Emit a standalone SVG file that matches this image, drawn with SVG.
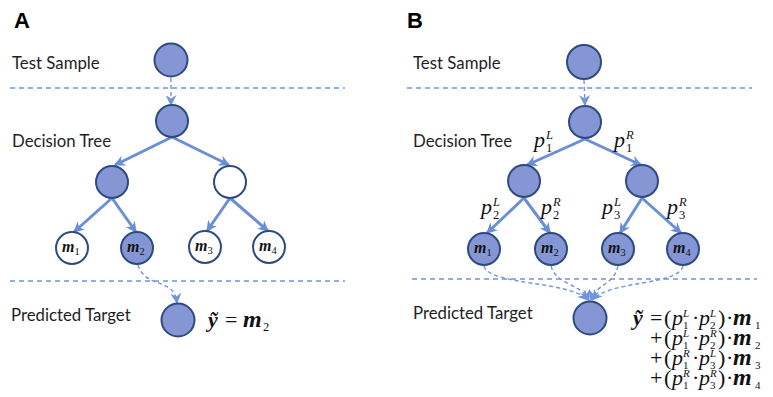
<svg xmlns="http://www.w3.org/2000/svg" width="773" height="397" viewBox="0 0 773 397">
<defs>
<style>
.lbl{font-family:Lato,"Liberation Sans",sans-serif;font-size:16.8px;fill:#1e1e1e}
.hd{font-family:"Liberation Sans",Arial,sans-serif;font-size:22px;font-weight:bold;fill:#000}
.nf{fill:#8497d4;stroke:#2f4a80;stroke-width:2}
.nw{fill:#fff;stroke:#2f4a80;stroke-width:2}
.edge{stroke:#6a8fd6;stroke-width:3;fill:none;marker-end:url(#ah)}
.dash{stroke:#6f95dd;stroke-width:1.4;stroke-dasharray:5 4;fill:none}
.darr{stroke:#6f95dd;stroke-width:1.4;stroke-dasharray:4 3;fill:none;marker-end:url(#dh)}
.m{font-family:"Liberation Serif","DejaVu Serif",serif;font-size:16px;font-weight:bold;font-style:italic;fill:#111}
.sub{font-family:"Liberation Serif","DejaVu Serif",serif;font-size:10.5px;font-weight:normal;font-style:normal}
.eq{font-family:"Liberation Serif","DejaVu Serif",serif;font-size:22px;fill:#111}
.pl{font-family:"Liberation Serif","DejaVu Serif",serif;font-size:22px;fill:#111}
.bi{font-weight:bold;font-style:italic}
.mm{font-weight:bold;font-style:italic;font-size:24px}
.it{font-style:italic}
.sm{font-size:12.5px}
.ss{font-size:11px}
</style>
<marker id="ah" viewBox="0 0 10 10" refX="9" refY="5" markerWidth="11" markerHeight="11" orient="auto" markerUnits="userSpaceOnUse"><path d="M0,0 L10,5 L0,10 L3,5 z" fill="#6a8fd6"/></marker>
<marker id="dh" viewBox="0 0 10 10" refX="9" refY="5" markerWidth="11" markerHeight="11" orient="auto" markerUnits="userSpaceOnUse"><path d="M0,0 L10,5 L0,10 L3,5 z" fill="#6f95dd"/></marker>
</defs>
<rect width="773" height="397" fill="#fff"/>

<!-- Panel A -->
<text class="hd" x="14" y="28">A</text>
<text class="lbl" x="12" y="69">Test Sample</text>
<text class="lbl" x="12" y="147">Decision Tree</text>
<text class="lbl" x="11" y="321">Predicted Target</text>

<!-- Panel B -->
<text class="hd" x="407" y="28">B</text>
<text class="lbl" x="413" y="69">Test Sample</text>
<text class="lbl" x="413" y="147">Decision Tree</text>
<text class="lbl" x="413" y="319">Predicted Target</text>

<g id="connectors">
<line class="dash" x1="10" y1="88" x2="345" y2="88"/>
<line class="dash" x1="10" y1="281" x2="345" y2="281"/>
<line class="dash" x1="407" y1="88" x2="752" y2="88"/>
<line class="dash" x1="412" y1="279" x2="757" y2="279"/>
<path class="darr" d="M171,78 L171,105"/>
<line class="edge" x1="172" y1="137" x2="115" y2="165"/>
<line class="edge" x1="172" y1="137" x2="229" y2="165"/>
<line class="edge" x1="112" y1="198" x2="74" y2="232"/>
<line class="edge" x1="112" y1="198" x2="136" y2="232"/>
<line class="edge" x1="230" y1="198" x2="207" y2="231"/>
<line class="edge" x1="230" y1="198" x2="268" y2="231"/>
<path class="darr" d="M138,265 C146,290 174,276 177,303"/>
<path class="darr" d="M584,80 L585,105"/>
<line class="edge" x1="585" y1="139" x2="527" y2="165"/>
<line class="edge" x1="585" y1="139" x2="641" y2="165"/>
<line class="edge" x1="524" y1="198" x2="487" y2="233"/>
<line class="edge" x1="524" y1="198" x2="550" y2="233"/>
<line class="edge" x1="642" y1="198" x2="620" y2="233"/>
<line class="edge" x1="642" y1="198" x2="681" y2="233"/>
<path class="darr" d="M484,266 C490,286 568,280 588,300"/>
<path class="darr" d="M551,266 C556,285 582,284 589,300"/>
<path class="darr" d="M618,266 C614,285 596,284 591,300"/>
<path class="darr" d="M683,266 C678,286 610,280 592,300"/>
</g>

<!-- Panel A nodes -->
<g id="a-test"><circle class="nf" cx="171" cy="60" r="16.5"/></g>
<g id="a-root"><circle class="nf" cx="172" cy="121" r="16"/></g>
<g id="a-left"><circle class="nf" cx="112" cy="182" r="16"/></g>
<g id="a-right"><circle class="nw" cx="230" cy="182" r="16"/></g>
<g id="a-m1"><circle class="nw" cx="72" cy="248" r="16"/><text class="m" x="62" y="252">m<tspan class="sub" dy="3">1</tspan></text></g>
<g id="a-m2"><circle class="nf" cx="137" cy="248" r="16"/><text class="m" x="127" y="252">m<tspan class="sub" dy="3">2</tspan></text></g>
<g id="a-m3"><circle class="nw" cx="205" cy="247" r="16"/><text class="m" x="195" y="251">m<tspan class="sub" dy="3">3</tspan></text></g>
<g id="a-m4"><circle class="nw" cx="269" cy="247" r="16"/><text class="m" x="259" y="251">m<tspan class="sub" dy="3">4</tspan></text></g>
<g id="a-pred"><circle class="nf" cx="178" cy="320" r="16.5"/>
<text class="eq" x="208" y="327"><tspan class="bi">ỹ</tspan><tspan x="225">=</tspan><tspan class="mm" x="243">m</tspan><tspan class="sm" x="263" y="331">2</tspan></text></g>

<!-- Panel B nodes -->
<g id="b-test"><circle class="nf" cx="584" cy="62" r="17"/></g>
<g id="b-root"><circle class="nf" cx="585" cy="122" r="16"/></g>
<g id="b-left"><circle class="nf" cx="524" cy="181" r="16"/></g>
<g id="b-right"><circle class="nf" cx="642" cy="181" r="16"/></g>
<g id="b-m1"><circle class="nf" cx="484" cy="249" r="16"/><text class="m" x="474" y="253">m<tspan class="sub" dy="3">1</tspan></text></g>
<g id="b-m2"><circle class="nf" cx="551" cy="249" r="16"/><text class="m" x="541" y="253">m<tspan class="sub" dy="3">2</tspan></text></g>
<g id="b-m3"><circle class="nf" cx="618" cy="249" r="16"/><text class="m" x="608" y="253">m<tspan class="sub" dy="3">3</tspan></text></g>
<g id="b-m4"><circle class="nf" cx="683" cy="249" r="16"/><text class="m" x="673" y="253">m<tspan class="sub" dy="3">4</tspan></text></g>
<g id="b-pred"><circle class="nf" cx="590" cy="318" r="16.5"/></g>

<!-- edge labels B -->
<g id="b-plabels" class="pl">
<text x="534" y="147"><tspan class="it">p</tspan><tspan class="sm it" x="546" y="139">L</tspan><tspan class="sm" x="546" y="152">1</tspan></text>
<text x="614" y="147"><tspan class="it">p</tspan><tspan class="sm it" x="626" y="139">R</tspan><tspan class="sm" x="626" y="152">1</tspan></text>
<text x="481" y="214"><tspan class="it">p</tspan><tspan class="sm it" x="493" y="206">L</tspan><tspan class="sm" x="493" y="219">2</tspan></text>
<text x="541" y="214"><tspan class="it">p</tspan><tspan class="sm it" x="553" y="206">R</tspan><tspan class="sm" x="553" y="219">2</tspan></text>
<text x="602" y="214"><tspan class="it">p</tspan><tspan class="sm it" x="614" y="206">L</tspan><tspan class="sm" x="614" y="219">3</tspan></text>
<text x="667" y="214"><tspan class="it">p</tspan><tspan class="sm it" x="679" y="206">R</tspan><tspan class="sm" x="679" y="219">3</tspan></text>
</g>

<!-- formula B -->
<g id="b-formula" class="eq">
<text x="633" y="325"><tspan class="bi">ỹ</tspan><tspan x="650">=</tspan><tspan x="664">(</tspan><tspan class="it" x="672">p</tspan><tspan class="ss it" x="683" y="317">L</tspan><tspan class="ss" x="683" y="329">1</tspan><tspan x="692" y="325">·</tspan><tspan class="it" x="699">p</tspan><tspan class="ss it" x="710" y="317">L</tspan><tspan class="ss" x="710" y="329">2</tspan><tspan x="718" y="325">)</tspan><tspan x="726">·</tspan><tspan class="mm" x="733">m</tspan><tspan class="ss" x="755" y="329">1</tspan></text>
<text x="650" y="345">+<tspan x="664">(</tspan><tspan class="it" x="672">p</tspan><tspan class="ss it" x="683" y="337">L</tspan><tspan class="ss" x="683" y="349">1</tspan><tspan x="692" y="345">·</tspan><tspan class="it" x="699">p</tspan><tspan class="ss it" x="710" y="337">R</tspan><tspan class="ss" x="710" y="349">2</tspan><tspan x="718" y="345">)</tspan><tspan x="726">·</tspan><tspan class="mm" x="733">m</tspan><tspan class="ss" x="755" y="349">2</tspan></text>
<text x="650" y="365">+<tspan x="664">(</tspan><tspan class="it" x="672">p</tspan><tspan class="ss it" x="683" y="357">R</tspan><tspan class="ss" x="683" y="369">1</tspan><tspan x="692" y="365">·</tspan><tspan class="it" x="699">p</tspan><tspan class="ss it" x="710" y="357">L</tspan><tspan class="ss" x="710" y="369">3</tspan><tspan x="718" y="365">)</tspan><tspan x="726">·</tspan><tspan class="mm" x="733">m</tspan><tspan class="ss" x="755" y="369">3</tspan></text>
<text x="650" y="385">+<tspan x="664">(</tspan><tspan class="it" x="672">p</tspan><tspan class="ss it" x="683" y="377">R</tspan><tspan class="ss" x="683" y="389">1</tspan><tspan x="692" y="385">·</tspan><tspan class="it" x="699">p</tspan><tspan class="ss it" x="710" y="377">R</tspan><tspan class="ss" x="710" y="389">3</tspan><tspan x="718" y="385">)</tspan><tspan x="726">·</tspan><tspan class="mm" x="733">m</tspan><tspan class="ss" x="755" y="389">4</tspan></text>
</g>
</svg>
